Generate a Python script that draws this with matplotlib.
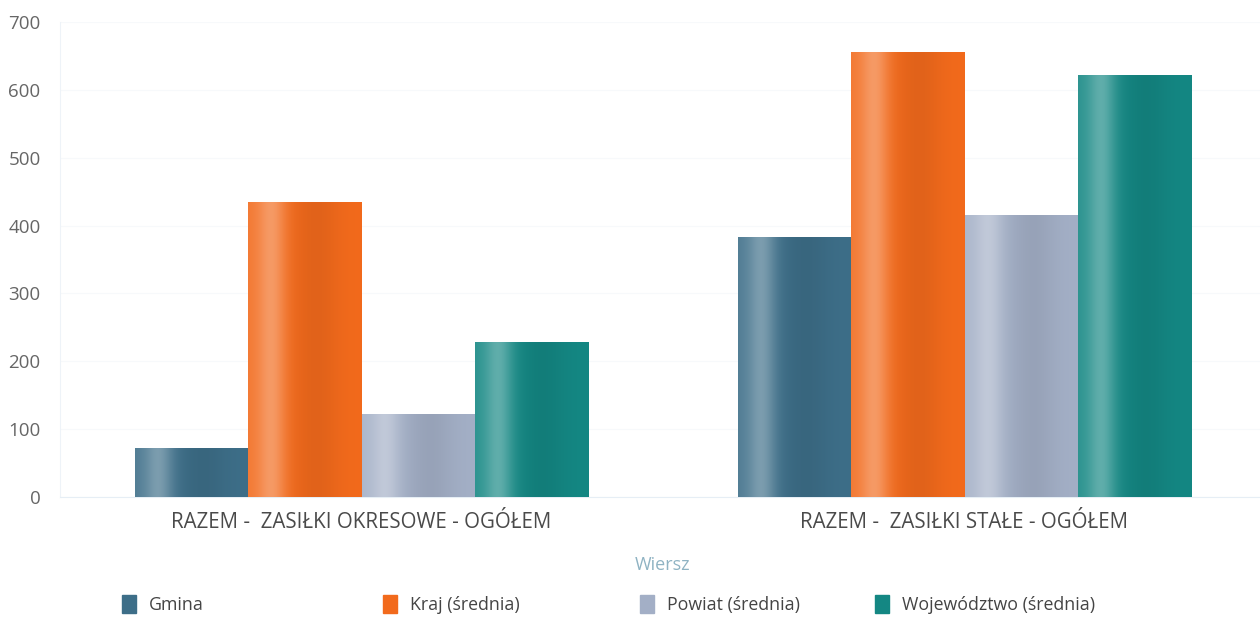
import numpy as np
import matplotlib
matplotlib.use('Agg')
import matplotlib.pyplot as plt
from matplotlib.colors import to_rgb
from matplotlib.patches import Rectangle

plt.rcParams['font.family'] = ['Open Sans', 'DejaVu Sans']

# Data
categories = ['RAZEM -  ZASIŁKI OKRESOWE - OGÓŁEM', 'RAZEM -  ZASIŁKI STAŁE - OGÓŁEM']
series = ['Gmina', 'Kraj (średnia)', 'Powiat (średnia)', 'Województwo (średnia)']
gmina = [72, 383]
kraj = [435, 656]
powiat = [122, 416]
wojewodztwo = [229, 622]
values = [gmina, kraj, powiat, wojewodztwo]
colors = ['#3d6e88', '#f26a1c', '#a3afc6', '#148783']
yticks = [0, 100, 200, 300, 400, 500, 600, 700]


def shade(color, n=200):
    # soft cylinder-like horizontal shading for a bar
    base = np.array(to_rgb(color))
    t = np.linspace(0, 1, n)
    light = 0.32 * np.exp(-((t - 0.2) / 0.13) ** 2) + 0.08 * np.exp(-((t - 0.0) / 0.1) ** 2)
    dark = 0.07 * np.exp(-((t - 0.6) / 0.2) ** 2)
    c = base[None, :] * (1 - dark[:, None])
    c = c + (1 - c) * light[:, None]
    return np.clip(c, 0, 1)[None, :, :]


fig = plt.figure(figsize=(12.6, 6.21), dpi=100)
ax = fig.add_axes([60 / 1260, (621 - 497) / 621, 1206 / 1260, 475 / 621])

x = np.arange(len(categories))
width = 0.1875
for i, (name, vals, col) in enumerate(zip(series, values, colors)):
    pos = x + (i - 1.5) * width
    bars = ax.bar(pos, vals, width, color=col, label=name, zorder=2, linewidth=0)
    for b in bars:
        im = ax.imshow(shade(col), extent=[b.get_x(), b.get_x() + b.get_width(), 0, b.get_height()],
                       aspect='auto', zorder=3, interpolation='bilinear')
        im.set_clip_path(b)

ax.set_xlim(-0.5, 1.5)
ax.set_ylim(0, 700)
ax.set_yticks(yticks)
ax.set_xticks(x)
ax.set_xticklabels(categories)
ax.tick_params(axis='both', length=0)
ax.tick_params(axis='y', pad=14, labelsize=13.5, colors='#666666')
ax.tick_params(axis='x', pad=11, labelsize=14.8, colors='#4a4a4a')
for s in ['top', 'right']:
    ax.spines[s].set_visible(False)
ax.spines['left'].set_color('#eef3f8')
ax.spines['bottom'].set_color('#e6eef5')
ax.grid(axis='y', color='#f7f9fb', linewidth=0.8, zorder=0)
ax.set_axisbelow(True)

fig.text(663 / 1260, 1 - 565 / 621, 'Wiersz', ha='center', va='center', fontsize=13, color='#8fb3c3')

# legend placed by hand
leg_x = [122, 383, 640, 875]
for lx, name, col in zip(leg_x, series, colors):
    fig.patches.append(Rectangle((lx / 1260, 1 - 613 / 621), 14 / 1260, 18 / 621,
                                 transform=fig.transFigure, color=col))
    fig.text((lx + 27) / 1260, 1 - 605 / 621, name, ha='left', va='center', fontsize=12.8, color='#444444')

fig.savefig('out.png', dpi=100)
